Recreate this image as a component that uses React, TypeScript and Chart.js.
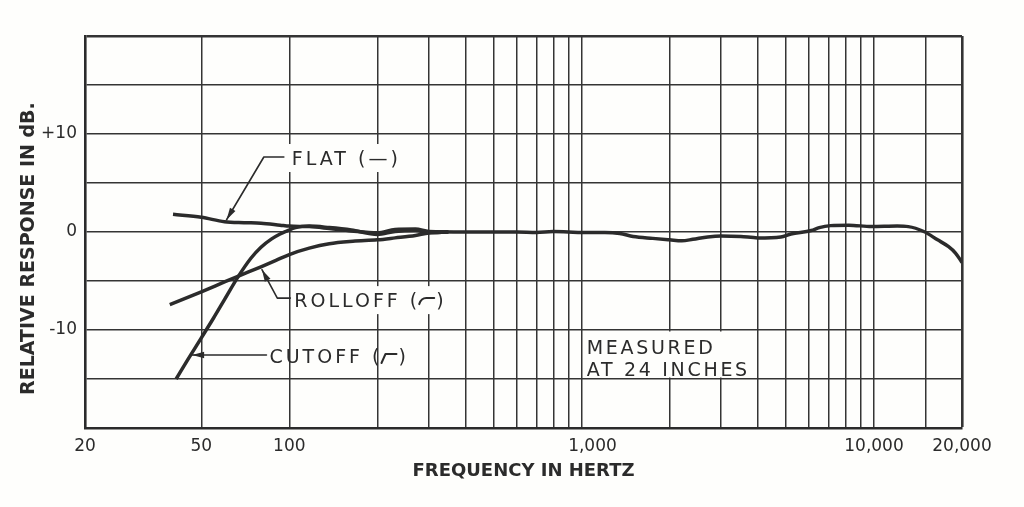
import React, { useEffect, useRef } from 'react';
import { Chart, registerables } from 'chart.js';

Chart.register(...registerables);

// ---------- data ----------
const flatFreq = [40, 50, 60, 70, 80, 93, 100, 117, 137, 163, 200, 230, 270, 300, 400, 500, 600, 700, 800, 900, 1000, 1200, 1350, 1500, 1750, 2000, 2200, 2400, 2700, 3000, 3500, 4000, 4800, 5200, 6100, 6500, 7100, 8200, 9800, 12000, 13100, 14800, 16500, 18000, 19000, 20000];
const flatDb = [1.8, 1.5, 1.05, 0.95, 0.9, 0.7, 0.6, 0.55, 0.35, 0.1, -0.1, 0.25, 0.3, 0.05, 0, 0, 0, -0.05, 0.05, 0, -0.05, -0.05, -0.15, -0.45, -0.65, -0.8, -0.9, -0.75, -0.5, -0.4, -0.45, -0.6, -0.5, -0.2, 0.15, 0.45, 0.65, 0.7, 0.55, 0.6, 0.55, 0.05, -0.8, -1.5, -2.15, -3.1];

const rolloffFreq = [39, 50, 60, 67, 80, 90, 100, 117, 137, 165, 200, 230, 270, 300, 350];
const rolloffDb = [-7.4, -6.1, -5.1, -4.5, -3.55, -2.9, -2.3, -1.65, -1.2, -0.95, -0.8, -0.6, -0.35, -0.1, 0];

const cutoffFreq = [41, 45, 50, 55, 60, 67, 74, 80, 87, 93, 98, 105, 117, 137, 163, 200, 230, 270, 300, 350];
const cutoffDb = [-15, -13.0, -10.8, -8.8, -6.9, -4.5, -2.65, -1.55, -0.7, -0.2, 0.1, 0.45, 0.6, 0.45, 0.2, -0.25, 0.05, 0.15, -0.05, 0];

const xGridValues = [20, 50, 100, 200, 300, 400, 500, 600, 700, 800, 900, 1000, 2000, 3000, 4000, 5000, 6000, 7000, 8000, 9000, 10000, 15000, 20000];
const xLabelValues = [20, 50, 100, 1000, 10000, 20000];
const xLabelTexts = ['20', '50', '100', '    1,000', '10,000', '20,000'];

const yGridValues = [-20, -15, -10, -5, 0, 5, 10, 15, 20];
const yLabelValues = [10, 0, -10];
const yLabelTexts = ['+10', '0', '-10'];

const seriesNames = ['FLAT', 'ROLLOFF', 'CUTOFF'];

// ---------- styling ----------
const INK = '#2b2b2b';
const GRID = '#343434';
const FONT = '"DejaVu Sans", sans-serif';

function arrowHead(ctx: CanvasRenderingContext2D, fx: number, fy: number, tx: number, ty: number, len = 12, half = 3.2) {
  const a = Math.atan2(ty - fy, tx - fx);
  const bx = tx - len * Math.cos(a);
  const by = ty - len * Math.sin(a);
  ctx.beginPath();
  ctx.moveTo(tx, ty);
  ctx.lineTo(bx + half * Math.sin(a), by - half * Math.cos(a));
  ctx.lineTo(bx - half * Math.sin(a), by + half * Math.cos(a));
  ctx.closePath();
  ctx.fill();
}

const annotationPlugin = {
  id: 'annotations',
  afterDatasetsDraw(chart: any) {
    const ctx: CanvasRenderingContext2D = chart.ctx;
    const xs = chart.scales.x;
    const ys = chart.scales.y;
    const X = (f: number) => xs.getPixelForValue(f);
    const Y = (d: number) => ys.getPixelForValue(d);
    ctx.save();
    ctx.fillStyle = INK;
    ctx.strokeStyle = INK;
    ctx.font = `19px ${FONT}`;
    (ctx as any).letterSpacing = '3px';
    ctx.textBaseline = 'alphabetic';
    ctx.textAlign = 'left';
    ctx.lineCap = 'round';
    ctx.lineJoin = 'round';

    const drawLabel = (pre: string, sym: 'none' | 'roll' | 'cut', left: number, yc: number, blank: boolean) => {
      const post = sym === 'none' ? '' : ')';
      const wPre = ctx.measureText(pre).width;
      const gap = sym === 'none' ? 0 : 16;
      const wPost = post ? ctx.measureText(post).width : 0;
      const total = wPre + gap + wPost;
      if (blank) {
        ctx.save();
        ctx.fillStyle = '#fefefc';
        ctx.fillRect(left - 3, yc - 14, total + 3, 28);
        ctx.restore();
      }
      ctx.fillText(pre, left, yc + 7);
      if (sym !== 'none') {
        const gx = left + wPre - 2;
        ctx.save();
        ctx.lineWidth = 2;
        ctx.beginPath();
        if (sym === 'roll') {
          ctx.moveTo(gx + 1, yc + 4);
          ctx.quadraticCurveTo(gx + 3, yc - 2, gx + 8, yc - 2);
          ctx.lineTo(gx + 16, yc - 2);
        } else {
          ctx.moveTo(gx + 1, yc + 7);
          ctx.lineTo(gx + 5, yc - 2);
          ctx.lineTo(gx + 16, yc - 2);
        }
        ctx.stroke();
        ctx.restore();
        ctx.fillText(post, left + wPre + gap, yc + 7);
      }
    };

    // FLAT
    const fL = X(102), fY = Y(7.55);
    drawLabel('FLAT (\u2014)', 'none', fL, fY, true);
    // ROLLOFF
    const rL = X(104), rY = Y(-6.95);
    drawLabel('ROLLOFF (', 'roll', rL, rY, true);
    // CUTOFF
    const cL = X(85.5), cY = Y(-12.65);
    drawLabel('CUTOFF (', 'cut', cL, cY, false);

    // leaders
    ctx.lineWidth = 1.6;
    // flat
    let tx = X(61), ty = Y(1.25);
    ctx.beginPath();
    ctx.moveTo(fL - 8, fY - 1);
    ctx.lineTo(fL - 28, fY - 1);
    ctx.lineTo(tx, ty);
    ctx.stroke();
    arrowHead(ctx, fL - 28, fY - 1, tx, ty);
    // rolloff
    tx = X(80.6); ty = Y(-3.85);
    ctx.beginPath();
    ctx.moveTo(rL - 4, rY - 2);
    ctx.lineTo(rL - 17, rY - 2);
    ctx.lineTo(tx, ty);
    ctx.stroke();
    arrowHead(ctx, rL - 17, rY - 2, tx, ty);
    // cutoff
    tx = X(46.5); ty = Y(-12.55);
    ctx.beginPath();
    ctx.moveTo(cL - 3, cY - 1);
    ctx.lineTo(tx, ty);
    ctx.stroke();
    arrowHead(ctx, cL - 3, cY - 1, tx, ty);

    // MEASURED box
    (ctx as any).letterSpacing = '2.7px';
    const mL = X(1000) + 5;
    const l1 = 'MEASURED', l2 = 'AT 24 INCHES';
    const w = Math.max(ctx.measureText(l1).width, ctx.measureText(l2).width);
    ctx.save();
    ctx.fillStyle = '#fefefc';
    ctx.fillRect(X(1000) + 1.5, Y(-10) + 1.5, mL + w + 2 - (X(1000) + 1.5), Y(-15) - Y(-10) - 3);
    ctx.restore();
    ctx.fillText(l1, mL, Y(-11.7) + 7);
    ctx.fillText(l2, mL, Y(-14.0) + 7);
    ctx.restore();
  },
};

export default function App() {
  const ref = useRef<HTMLCanvasElement | null>(null);

  useEffect(() => {
    if (!ref.current) return;
    const line = (freq: number[], db: number[], i: number) => ({
      label: seriesNames[i],
      data: freq.map((f, k) => ({ x: f, y: db[k] })),
      borderColor: INK,
      borderWidth: 3.5,
      pointRadius: 0,
      cubicInterpolationMode: 'monotone' as const,
      fill: false,
    });
    const chart = new Chart(ref.current, {
      type: 'line',
      data: {
        datasets: [
          line(flatFreq, flatDb, 0),
          line(rolloffFreq, rolloffDb, 1),
          line(cutoffFreq, cutoffDb, 2),
        ],
      },
      options: {
        responsive: false,
        animation: false,
        layout: { padding: { top: 36, right: 62, left: 0, bottom: 0 } },
        plugins: { legend: { display: false }, tooltip: { enabled: false } },
        scales: {
          x: {
            type: 'logarithmic',
            min: 20,
            max: 20000,
            afterFit: (s: any) => { s.height = 79; },
            afterBuildTicks: (s: any) => { s.ticks = xGridValues.map((v) => ({ value: v })); },
            ticks: {
              autoSkip: false,
              maxRotation: 0,
              minRotation: 0,
              padding: 8,
              color: INK,
              font: { family: FONT, size: 17 },
              callback: (v: any) => {
                const i = xLabelValues.indexOf(Number(v));
                return i >= 0 ? xLabelTexts[i] : '';
              },
            },
            grid: {
              drawTicks: false,
              color: GRID,
              lineWidth: (c: any) => (c.tick && c.tick.value === 20000 ? 2.6 : 1.5),
            },
            border: { display: true, color: INK, width: 2.6 },
            title: {
              display: true,
              text: 'FREQUENCY IN HERTZ',
              color: INK,
              font: { family: FONT, size: 18, weight: 'bold' },
              padding: { top: 0, bottom: 25 },
            },
          },
          y: {
            type: 'linear',
            min: -20,
            max: 20,
            afterFit: (s: any) => { s.width = 85; },
            afterBuildTicks: (s: any) => { s.ticks = yGridValues.map((v) => ({ value: v })); },
            ticks: {
              padding: 8,
              color: INK,
              font: { family: FONT, size: 17 },
              callback: (v: any) => {
                const i = yLabelValues.indexOf(Number(v));
                return i >= 0 ? yLabelTexts[i] : '';
              },
            },
            grid: {
              drawTicks: false,
              color: GRID,
              lineWidth: (c: any) => (c.tick && c.tick.value === 20 ? 2.6 : 1.5),
            },
            border: { display: true, color: INK, width: 2.6 },
            title: {
              display: true,
              text: 'RELATIVE RESPONSE IN dB.     ',
              color: INK,
              font: { family: FONT, size: 19, weight: 'bold' },
              padding: { top: 18, bottom: 0 },
            },
          },
        },
      },
      plugins: [annotationPlugin],
    });
    return () => chart.destroy();
  }, []);

  return (
    <div style={{ position: 'absolute', left: 0, top: 0, width: 1024, height: 507, background: '#fefefc' }}>
      <canvas ref={ref} width={1024} height={507} style={{ display: 'block', width: 1024, height: 507 }} />
    </div>
  );
}
